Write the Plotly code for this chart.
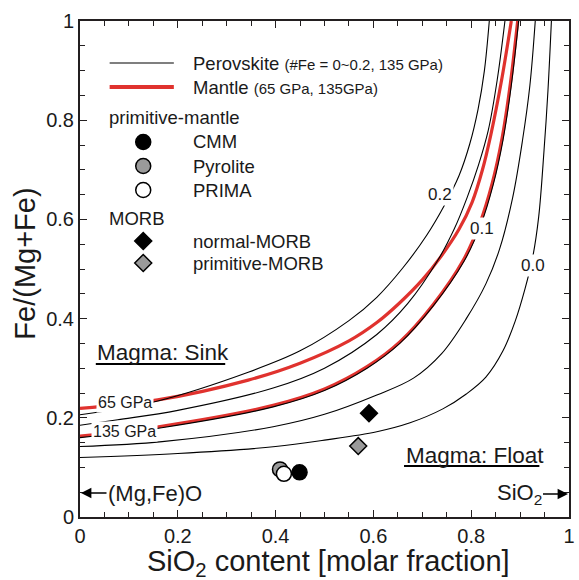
import plotly.graph_objects as go

# ---------------- data ----------------
# Perovskite density-equality curves (#Fe = 0.0 ... 0.2, 135 GPa)
pv00_x = [0.0, 0.20, 0.40, 0.50, 0.607, 0.675, 0.742, 0.79, 0.83, 0.865, 0.89, 0.91, 0.926, 0.938, 0.949, 0.957, 0.964]
pv00_y = [0.120, 0.128, 0.142, 0.155, 0.172, 0.190, 0.218, 0.248, 0.282, 0.335, 0.395, 0.46, 0.525, 0.605, 0.74, 0.86, 1.0]

pv05_x = [0.0, 0.168, 0.395, 0.50, 0.607, 0.682, 0.74, 0.79, 0.83, 0.858, 0.885, 0.905, 0.92, 0.931]
pv05_y = [0.142, 0.152, 0.182, 0.207, 0.246, 0.280, 0.33, 0.40, 0.47, 0.54, 0.645, 0.76, 0.87, 1.0]

pv10_x = [0.0, 0.167, 0.395, 0.50, 0.587, 0.654, 0.722, 0.785, 0.82, 0.845, 0.865, 0.882, 0.897]
pv10_y = [0.160, 0.180, 0.222, 0.255, 0.300, 0.350, 0.425, 0.515, 0.59, 0.67, 0.76, 0.87, 1.0]

pv15_x = [0.0, 0.077, 0.20, 0.395, 0.50, 0.607, 0.67, 0.732, 0.765, 0.792, 0.815, 0.835, 0.853, 0.869]
pv15_y = [0.185, 0.196, 0.215, 0.260, 0.300, 0.368, 0.43, 0.518, 0.58, 0.645, 0.71, 0.78, 0.88, 1.0]

pv20_x = [0.0, 0.159, 0.344, 0.45, 0.55, 0.607, 0.66, 0.709, 0.745, 0.775, 0.797, 0.814, 0.827, 0.837]
pv20_y = [0.206, 0.234, 0.292, 0.335, 0.396, 0.443, 0.502, 0.568, 0.628, 0.688, 0.752, 0.822, 0.90, 1.0]

# Mantle curves (65 GPa, 135 GPa)
m65_x = [0.0, 0.159, 0.344, 0.45, 0.55, 0.607, 0.654, 0.70, 0.738, 0.775, 0.802, 0.823, 0.84, 0.862, 0.882]
m65_y = [0.219, 0.236, 0.276, 0.310, 0.355, 0.392, 0.432, 0.478, 0.525, 0.580, 0.635, 0.70, 0.77, 0.88, 1.0]

m135_x = [0.0, 0.167, 0.395, 0.50, 0.587, 0.654, 0.722, 0.784, 0.818, 0.843, 0.863, 0.880, 0.895]
m135_y = [0.163, 0.183, 0.225, 0.258, 0.303, 0.353, 0.428, 0.518, 0.593, 0.673, 0.763, 0.873, 1.0]

# compositions
pm_names = ["Pyrolite", "PRIMA", "CMM"]
pm_x = [0.409, 0.417, 0.449]
pm_y = [0.096, 0.087, 0.090]
pm_fill = ["#9a9a9a", "#ffffff", "#000000"]

morb_names = ["normal-MORB", "primitive-MORB"]
morb_x = [0.591, 0.569]
morb_y = [0.209, 0.143]
morb_fill = ["#000000", "#9a9a9a"]

x_tickvals = [0, 0.2, 0.4, 0.6, 0.8, 1]
x_ticktext = ["0", "0.2", "0.4", "0.6", "0.8", "1"]
y_tickvals = [0, 0.2, 0.4, 0.6, 0.8, 1]
y_ticktext = ["0", "0.2", "0.4", "0.6", "0.8", "1"]

# ---------------- figure ----------------
FONT = "Liberation Sans, Arial, sans-serif"
INK = "#1a1a1a"
RED = "#e0322e"

fig = go.Figure()

for xs, ys in [(m65_x, m65_y), (m135_x, m135_y)]:
    fig.add_trace(go.Scatter(x=xs, y=ys, mode="lines", line=dict(color=RED, width=3.2, shape="spline", smoothing=1.0),
                             showlegend=False, hoverinfo="skip"))
for xs, ys in [(pv00_x, pv00_y), (pv05_x, pv05_y), (pv10_x, pv10_y), (pv15_x, pv15_y), (pv20_x, pv20_y)]:
    fig.add_trace(go.Scatter(x=xs, y=ys, mode="lines", line=dict(color="#000000", width=1.1, shape="spline", smoothing=1.0),
                             showlegend=False, hoverinfo="skip"))

for i in range(len(pm_x)):
    fig.add_trace(go.Scatter(x=[pm_x[i]], y=[pm_y[i]], mode="markers", name=pm_names[i],
                             marker=dict(symbol="circle", size=15, color=pm_fill[i], line=dict(color="#000", width=1.5)),
                             showlegend=False, cliponaxis=False))
for i in range(len(morb_x)):
    fig.add_trace(go.Scatter(x=[morb_x[i]], y=[morb_y[i]], mode="markers", name=morb_names[i],
                             marker=dict(symbol="diamond", size=13, color=morb_fill[i], line=dict(color="#000", width=1.5)),
                             showlegend=False, cliponaxis=False))

# geometry helpers (plot area: x 80..575 px, y 21..517 px)
L, R, T, B = 80, 575, 21, 517
def px(xp):
    return (xp - L) / (R - L)
def py(yp):
    return (B - yp) / (B - T)

ann = []
shapes = []

def text(x, y, s, size, anchor="left", **kw):
    d = dict(x=x, y=y, xref="paper", yref="paper", text=s, showarrow=False,
             xanchor=anchor, yanchor="middle", font=dict(family=FONT, size=size, color=INK))
    d.update(kw)
    ann.append(d)

# legend (drawn manually)
shapes.append(dict(type="line", xref="paper", yref="paper", x0=px(110), x1=px(175), y0=py(63), y1=py(63),
                   line=dict(color="#000", width=1.2)))
shapes.append(dict(type="line", xref="paper", yref="paper", x0=px(110), x1=px(175), y0=py(87), y1=py(87),
                   line=dict(color=RED, width=4)))
text(px(192), py(63), "Perovskite <span style='font-size:15px'>(#Fe = 0~0.2, 135 GPa)</span>", 18.5)
text(px(192), py(87), "Mantle <span style='font-size:15px'>(65 GPa, 135GPa)</span>", 18.5)
text(px(107), py(117), "primitive-mantle", 18.5)
text(px(107), py(218), "MORB", 18.5)

leg_rows = [("CMM", 142, "circle", "#000000"), ("Pyrolite", 166, "circle", "#9a9a9a"),
            ("PRIMA", 190, "circle", "#ffffff"), ("normal-MORB", 241, "diamond", "#000000"),
            ("primitive-MORB", 263, "diamond", "#9a9a9a")]
for name, yy, sym, fc in leg_rows:
    text(px(192), py(yy), name, 18.5)
    if sym == "circle":
        shapes.append(dict(type="circle", xref="paper", yref="paper", xsizemode="pixel", ysizemode="pixel",
                           xanchor=px(144), yanchor=py(yy), x0=-7.5, x1=7.5, y0=-7.5, y1=7.5,
                           fillcolor=fc, line=dict(color="#000", width=1.5)))
    else:
        shapes.append(dict(type="path", xref="paper", yref="paper", xsizemode="pixel", ysizemode="pixel",
                           xanchor=px(144), yanchor=py(yy), path="M0,-8.5 L8.5,0 L0,8.5 L-8.5,0 Z",
                           fillcolor=fc, line=dict(color="#000", width=1.5)))

# curve labels
for s, x, y in [("0.2", 0.737, 0.651), ("0.1", 0.823, 0.582), ("0.0", 0.926, 0.508)]:
    ann.append(dict(x=x, y=y, xref="x", yref="y", text=s, showarrow=False, bgcolor="white", borderpad=1,
                    font=dict(family=FONT, size=17, color=INK)))
for s, x, y in [("65 GPa", 0.091, 0.230), ("135 GPa", 0.092, 0.173)]:
    ann.append(dict(x=x, y=y, xref="x", yref="y", text=s, showarrow=False, bgcolor="white", borderpad=1,
                    font=dict(family=FONT, size=16, color=INK)))

# region labels with underline
text(px(95), py(352), "Magma: Sink", 22.5)
shapes.append(dict(type="line", xref="paper", yref="paper", x0=px(96), x1=px(227), y0=py(364), y1=py(364),
                   line=dict(color="#000", width=2)))
text(px(407.5), py(455), "Magma: Float", 22.5)
shapes.append(dict(type="line", xref="paper", yref="paper", x0=px(408), x1=px(545), y0=py(466), y1=py(466),
                   line=dict(color="#000", width=2)))

# end-member arrows
ann.append(dict(x=0, y=py(493), xref="paper", yref="paper", text="(Mg,Fe)O", showarrow=True,
                ax=75, ay=0, axref="pixel", ayref="pixel", arrowhead=2, arrowsize=1.3, arrowwidth=1.6,
                arrowcolor="#000", xanchor="center", yanchor="middle", standoff=1,
                font=dict(family=FONT, size=22, color=INK)))
ann.append(dict(x=1, y=py(494), xref="paper", yref="paper", text="SiO<sub>2</sub>", showarrow=True,
                ax=-50, ay=0, axref="pixel", ayref="pixel", arrowhead=2, arrowsize=1.3, arrowwidth=1.6,
                arrowcolor="#000", xanchor="center", yanchor="middle", standoff=1,
                font=dict(family=FONT, size=22, color=INK)))

# axis titles
text(px(332), py(563), "SiO<sub>2</sub> content [molar fraction]", 29, anchor="center")
ann.append(dict(x=px(24), y=py(264), xref="paper", yref="paper", text="Fe/(Mg+Fe)", showarrow=False,
                textangle=-90, xanchor="center", yanchor="middle", font=dict(family=FONT, size=29, color=INK)))

axis_common = dict(range=[0, 1], showgrid=False, zeroline=False, showline=True, linecolor="#231f20", linewidth=2,
                   mirror="ticks", ticks="inside", ticklen=7, tickwidth=1.3, tickcolor="#231f20",
                   tickfont=dict(family=FONT, size=20, color=INK),
                   minor=dict(dtick=0.05, ticks="inside", ticklen=5, tickwidth=1.2, tickcolor="#231f20", showgrid=False))

fig.update_xaxes(tickvals=x_tickvals, ticktext=x_ticktext, **axis_common)
fig.update_yaxes(tickvals=y_tickvals, ticktext=y_ticktext, **axis_common)

fig.update_layout(width=579, height=580, margin=dict(l=L, r=579 - R, t=T, b=580 - B),
                  paper_bgcolor="white", plot_bgcolor="white", showlegend=False,
                  annotations=ann, shapes=shapes, font=dict(family=FONT, color=INK))

fig.write_html("out.html")
